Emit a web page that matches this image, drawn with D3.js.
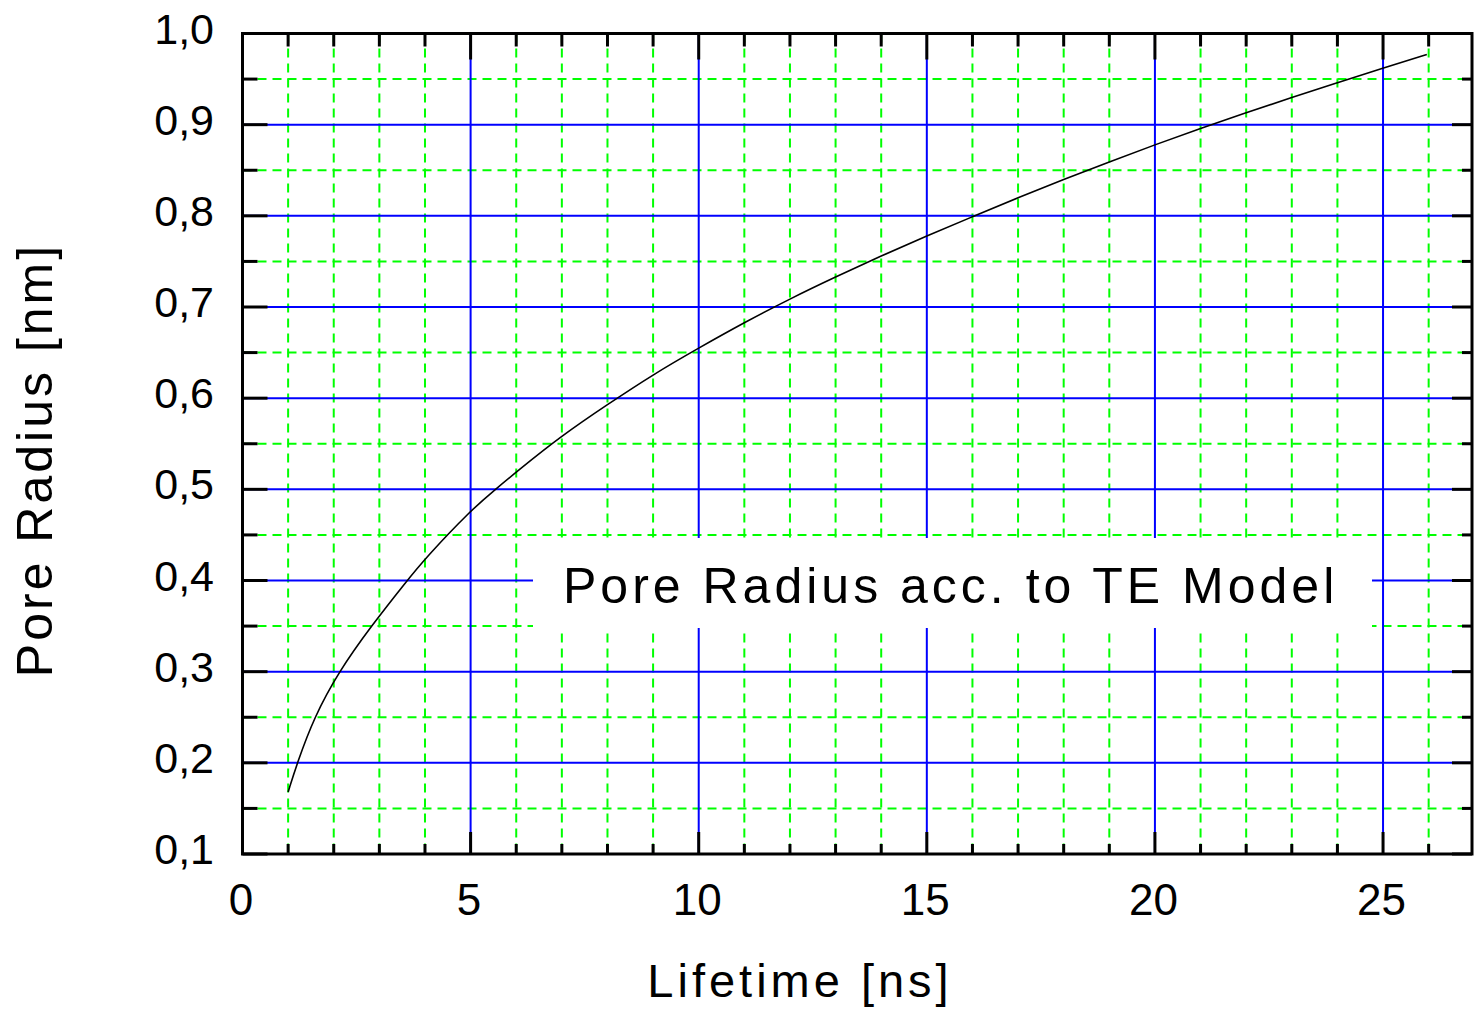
<!DOCTYPE html>
<html>
<head>
<meta charset="utf-8">
<script src="https://cdn.jsdelivr.net/npm/d3@7"></script>
<style>
  html, body { margin: 0; padding: 0; background: #fff; }
  svg { display: block; }
  text { font-family: "Liberation Sans", Arial, sans-serif; fill: #000; }
</style>
</head>
<body>
<svg id="chart" width="1474" height="1014"></svg>
<script>
// Pore radius vs. positron lifetime (Tao-Eldrup model curve)
const lifetime = [1.0, 1.2, 1.57, 2.11, 2.82, 3.61, 4.0, 5.0, 5.57, 6.0, 7.0, 8.0, 9.0,
                  10.0, 11.0, 12.0, 13.0, 14.0, 15.0, 16.0, 17.0, 18.0, 19.0, 20.0, 21.0, 22.0,
                  23.0, 24.0, 25.0, 25.96];
const radius   = [0.168, 0.200, 0.250, 0.300, 0.350, 0.400, 0.424, 0.477, 0.501,
                  0.519, 0.559, 0.593, 0.626, 0.655, 0.683, 0.709, 0.733, 0.756, 0.778, 0.799,
                  0.820, 0.840, 0.859, 0.878, 0.896, 0.913, 0.930, 0.946, 0.962, 0.977];

const xMajorTicks = [0, 5, 10, 15, 20, 25];
const xMinorTicks = d3.range(1, 27).filter(v => v % 5 !== 0);
const yMajorTicks = [0.1, 0.2, 0.3, 0.4, 0.5, 0.6, 0.7, 0.8, 0.9, 1.0];
const yMinorTicks = [0.15, 0.25, 0.35, 0.45, 0.55, 0.65, 0.75, 0.85, 0.95];

const xTitle = "Lifetime [ns]";
const yTitle = "Pore Radius [nm]";
const legendLabel = "Pore Radius acc. to TE Model";

const svg = d3.select("#chart");
const x = d3.scaleLinear().domain([0, 26.95]).range([242.5, 1472]);
const y = d3.scaleLinear().domain([0.1, 1.0]).range([854, 33.5]);

const fmt = d3.formatLocale({ decimal: ",", thousands: ".", grouping: [3], currency: ["", ""] });
const yFmt = fmt.format(".1f");
const xFmt = fmt.format("d");

const [x0, x1] = x.range();
const [yB, yT] = y.range();

// minor grid: green dashed
const grid = svg.append("g");
grid.selectAll("line.vminor").data(xMinorTicks).join("line")
  .attr("x1", d => x(d)).attr("x2", d => x(d)).attr("y1", yT).attr("y2", yB)
  .attr("stroke", "#00ff00").attr("stroke-width", 2).attr("stroke-dasharray", "9,6");
grid.selectAll("line.hminor").data(yMinorTicks).join("line")
  .attr("y1", d => y(d)).attr("y2", d => y(d)).attr("x1", x0).attr("x2", x1)
  .attr("stroke", "#00ff00").attr("stroke-width", 2).attr("stroke-dasharray", "9,6");

// major grid: solid blue
grid.selectAll("line.vmajor").data(xMajorTicks.filter(d => d > 0)).join("line")
  .attr("x1", d => x(d)).attr("x2", d => x(d)).attr("y1", yT).attr("y2", yB)
  .attr("stroke", "#0000ff").attr("stroke-width", 2);
grid.selectAll("line.hmajor").data(yMajorTicks.filter(d => d > 0.1 && d < 1.0)).join("line")
  .attr("y1", d => y(d)).attr("y2", d => y(d)).attr("x1", x0).attr("x2", x1)
  .attr("stroke", "#0000ff").attr("stroke-width", 2);

// legend box (white, hides the grid behind it)
svg.append("rect")
  .attr("x", 533).attr("y", 538).attr("width", 839).attr("height", 90)
  .attr("fill", "#fff");
svg.append("text")
  .attr("x", 563).attr("y", 603)
  .attr("font-size", 50).attr("letter-spacing", 4)
  .text(legendLabel);

// data curve
const pts = lifetime.map((t, i) => [t, radius[i]]);
svg.append("path")
  .datum(pts)
  .attr("fill", "none").attr("stroke", "#000").attr("stroke-width", 1.6)
  .attr("d", d3.line().x(d => x(d[0])).y(d => y(d[1])).curve(d3.curveBasis));

// ticks on all four sides, pointing inwards
const ticks = svg.append("g").attr("stroke", "#000").attr("stroke-width", 3);
function hTicks(vals, len, side) {
  ticks.selectAll(null).data(vals).join("line")
    .attr("x1", d => x(d)).attr("x2", d => x(d))
    .attr("y1", side === "top" ? yT : yB)
    .attr("y2", side === "top" ? yT + len : yB - len);
}
function vTicks(vals, len, side) {
  ticks.selectAll(null).data(vals).join("line")
    .attr("y1", d => y(d)).attr("y2", d => y(d))
    .attr("x1", side === "left" ? x0 : x1)
    .attr("x2", side === "left" ? x0 + len : x1 - len);
}
hTicks(xMajorTicks, 26, "top");
hTicks(xMinorTicks, 13, "top");
hTicks(xMajorTicks, 22, "bottom");
hTicks(xMinorTicks, 10, "bottom");
vTicks(yMajorTicks, 25, "left");
vTicks(yMinorTicks, 15, "left");
vTicks(yMajorTicks, 20, "right");
vTicks(yMinorTicks, 10, "right");

// frame
svg.append("rect")
  .attr("x", x0).attr("y", yT).attr("width", x1 - x0).attr("height", yB - yT)
  .attr("fill", "none").attr("stroke", "#000").attr("stroke-width", 3);

// tick labels
svg.append("g").selectAll("text").data(xMajorTicks).join("text")
  .attr("x", d => x(d) - 1.5).attr("y", 915)
  .attr("text-anchor", "middle").attr("font-size", 44)
  .text(d => xFmt(d));
svg.append("g").selectAll("text").data(yMajorTicks).join("text")
  .attr("x", 214).attr("y", d => y(d) + 10)
  .attr("text-anchor", "end").attr("font-size", 43)
  .text(d => yFmt(d));

// axis titles
svg.append("text")
  .attr("x", 800).attr("y", 997)
  .attr("text-anchor", "middle").attr("font-size", 47).attr("letter-spacing", 4)
  .text(xTitle);
svg.append("text")
  .attr("transform", "translate(52,460) rotate(-90)")
  .attr("text-anchor", "middle").attr("font-size", 50).attr("letter-spacing", 3)
  .text(yTitle);
</script>
</body>
</html>
